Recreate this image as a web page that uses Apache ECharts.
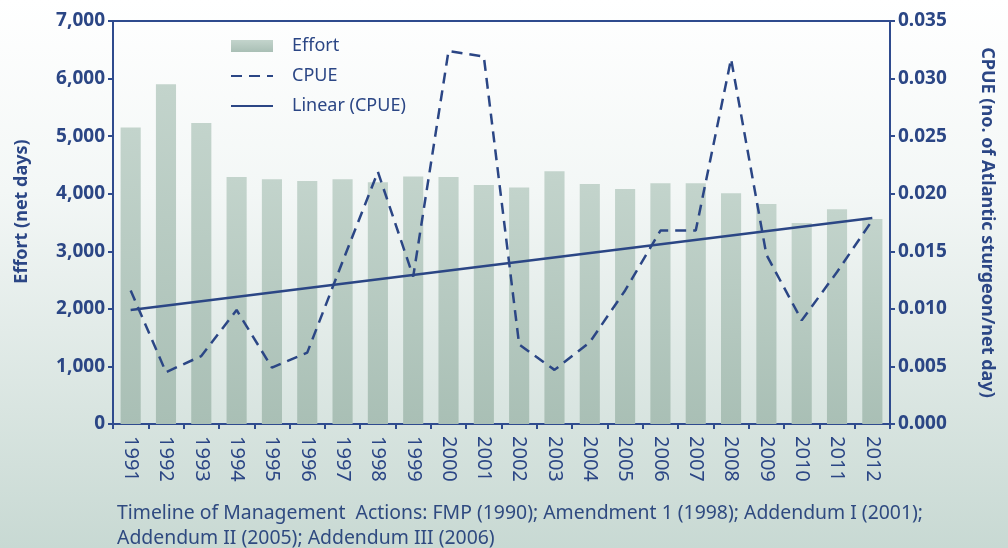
<!DOCTYPE html>
<html>
<head>
<meta charset="utf-8">
<script src="https://cdn.jsdelivr.net/npm/echarts@6/dist/echarts.min.js"></script>
<style>
  html, body { margin: 0; padding: 0; }
  #chart { width: 1008px; height: 548px; }
</style>
</head>
<body>
<div id="chart"></div>
<script>
// 数据
var years = ['1991','1992','1993','1994','1995','1996','1997','1998','1999','2000','2001',
             '2002','2003','2004','2005','2006','2007','2008','2009','2010','2011','2012'];
var effort = [5150, 5900, 5230, 4290, 4250, 4220, 4250, 4200, 4300, 4290, 4150,
              4110, 4390, 4170, 4080, 4180, 4180, 4010, 3820, 3490, 3730, 3560];
var cpue = [0.0116, 0.0045, 0.0059, 0.0099, 0.0049, 0.0062, 0.0141, 0.0219, 0.0128, 0.0324, 0.0319,
            0.0069, 0.0047, 0.0071, 0.0116, 0.0168, 0.0168, 0.0317, 0.0147, 0.0090, 0.0132, 0.0177];
// 趋势线：只读两端
var linearCpue = [0.0099, null, null, null, null, null, null, null, null, null, null,
                  null, null, null, null, null, null, null, null, null, null, 0.0179];
var footnote = ['Timeline of Management  Actions: FMP (1990); Amendment 1 (1998); Addendum I (2001);',
                'Addendum II (2005); Addendum III (2006)'];

var navy = '#2b4685';
var axisColor = '#2f4b8e';
var fontFam = '"Noto Sans", sans-serif';

var chartDom = document.getElementById('chart');
var myChart = echarts.init(chartDom);

var option = {
  backgroundColor: new echarts.graphic.LinearGradient(0, 0, 0, 1, [
    { offset: 0, color: '#ffffff' },
    { offset: 0.35, color: '#f3f7f6' },
    { offset: 1, color: '#c8d9d3' }
  ]),
  animation: false,
  textStyle: { fontFamily: fontFam },
  grid: {
    left: 113,
    right: 118,
    top: 21,
    bottom: 124,
    show: true,
    borderColor: axisColor,
    borderWidth: 2,
    backgroundColor: 'transparent'
  },
  legend: {
    orient: 'vertical',
    left: 225,
    top: 32,
    itemWidth: 42,
    itemHeight: 12,
    itemGap: 12,
    textStyle: { color: navy, fontSize: 18, fontFamily: fontFam, padding: [0, 0, 0, 14] },
    data: [
      { name: 'Effort', icon: 'rect' },
      { name: 'CPUE', itemStyle: { opacity: 0 } },
      { name: 'Linear (CPUE)', itemStyle: { opacity: 0 } }
    ]
  },
  xAxis: {
    type: 'category',
    data: years,
    boundaryGap: true,
    axisLine: { lineStyle: { color: axisColor, width: 2 } },
    axisTick: { show: true, length: 5, lineStyle: { color: axisColor, width: 2 } },
    axisLabel: {
      rotate: -90,
      interval: 0,
      margin: 12,
      fontSize: 20,
      color: navy,
      fontFamily: fontFam
    },
    splitLine: { show: false }
  },
  yAxis: [
    {
      type: 'value',
      min: 0,
      max: 7000,
      interval: 1000,
      name: 'Effort (net days)',
      nameLocation: 'middle',
      nameGap: 82,
      nameTextStyle: { color: navy, fontSize: 18, fontWeight: 'bold', fontFamily: fontFam, padding: [0, 0, 0, 22] },
      axisLine: { show: true, lineStyle: { color: axisColor, width: 2 } },
      axisTick: { show: true, length: 5, lineStyle: { color: axisColor, width: 2 } },
      axisLabel: {
        color: navy,
        fontSize: 19,
        fontWeight: 'bold',
        margin: 8,
        formatter: function (v) { return v.toLocaleString('en-US'); }
      },
      splitLine: { show: false }
    },
    {
      type: 'value',
      min: 0,
      max: 0.035,
      interval: 0.005,
      position: 'right',
      name: 'CPUE (no. of Atlantic sturgeon/net day)',
      nameLocation: 'middle',
      nameGap: 88,
      nameRotate: -90,
      nameTextStyle: { color: navy, fontSize: 18, fontWeight: 'bold', fontFamily: fontFam },
      axisLine: { show: true, lineStyle: { color: axisColor, width: 2 } },
      axisTick: { show: true, length: 5, lineStyle: { color: axisColor, width: 2 } },
      axisLabel: {
        color: navy,
        fontSize: 19,
        fontWeight: 'bold',
        margin: 8,
        formatter: function (v) { return v.toFixed(3); }
      },
      splitLine: { show: false }
    }
  ],
  series: [
    {
      name: 'Effort',
      type: 'bar',
      yAxisIndex: 0,
      barWidth: '57%',
      itemStyle: {
        color: new echarts.graphic.LinearGradient(0, 0, 0, 1, [
          { offset: 0, color: '#c3d4cc' },
          { offset: 1, color: '#a9bfb5' }
        ])
      },
      data: effort
    },
    {
      name: 'CPUE',
      type: 'line',
      yAxisIndex: 1,
      symbol: 'none',
      z: 3,
      lineStyle: { color: navy, width: 2.5, type: [11, 7] },
      itemStyle: { color: navy },
      data: cpue
    },
    {
      name: 'Linear (CPUE)',
      type: 'line',
      yAxisIndex: 1,
      symbol: 'none',
      connectNulls: true,
      z: 4,
      lineStyle: { color: navy, width: 2.5 },
      itemStyle: { color: navy },
      data: linearCpue
    }
  ],
  graphic: [
    {
      type: 'text',
      left: 117,
      top: 501,
      style: {
        text: footnote.join('\n'),
        fill: '#2f4a80',
        font: '19.4px "Noto Sans", sans-serif',
        lineHeight: 25
      }
    }
  ]
};

myChart.setOption(option);
</script>
</body>
</html>
